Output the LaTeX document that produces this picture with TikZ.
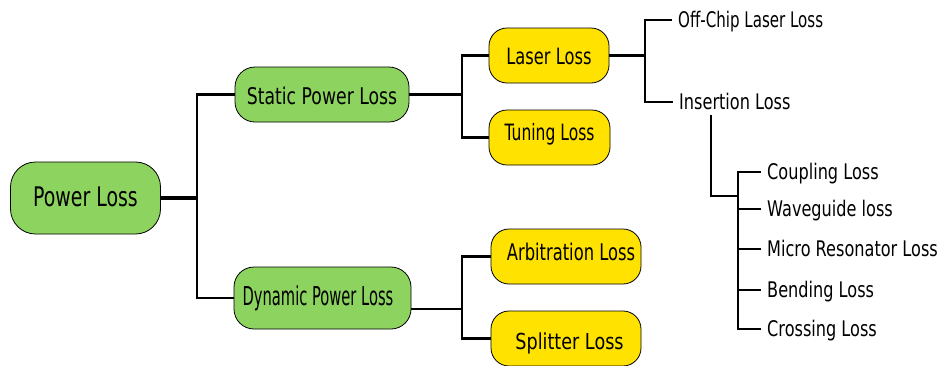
\documentclass[tikz,border=0pt]{standalone}
\usepackage{fontspec}
\setmainfont{DejaVu Sans}[FakeStretch=0.75]
\newfontfamily\plfont{DejaVu Sans}[FakeStretch=0.70]
\newfontfamily\dynfont{DejaVu Sans}[FakeStretch=0.565]
\newfontfamily\tunfont{DejaVu Sans}[FakeStretch=0.69]
\newfontfamily\offfont{DejaVu Sans}[FakeStretch=0.70]
\newfontfamily\arbfont{DejaVu Sans}[FakeStretch=0.71]
\newfontfamily\splfont{DejaVu Sans}[FakeStretch=0.80]
\newfontfamily\lasfont{DejaVu Sans}[FakeStretch=0.725]
\definecolor{boxgreen}{HTML}{8DD35F}
\definecolor{boxyellow}{HTML}{FFE200}
\begin{document}
\begin{tikzpicture}[x=1pt,y=-1pt,
  greenbox/.style={draw=black, line width=0.8pt, fill=boxgreen, rounded corners=20pt, inner sep=0pt, font=\fontsize{23}{28}\selectfont},
  yellowbox/.style={draw=black, line width=0.8pt, fill=boxyellow, rounded corners=18pt, minimum height=55pt, inner sep=0pt, font=\fontsize{22.5}{27}\selectfont},
  leaf/.style={inner xsep=6pt, inner ysep=0pt, text height=14pt, text depth=0pt, anchor=base west, font=\fontsize{21.5}{26}\selectfont},
  conn/.style={line width=2.2pt},
  mainconn/.style={line width=3.2pt},
]
\useasboundingbox (0,0) rectangle (940,365);

% boxes
\node[greenbox, minimum width=150pt, minimum height=72pt, rounded corners=25pt, text height=20pt, text depth=4pt, font=\fontsize{27}{32}\plfont] (pl) at (85.5,198) {Power Loss};
\node[greenbox, minimum width=174pt, minimum height=55pt, text height=22pt, text depth=3pt] (spl) at (322,94.5) {Static Power Loss};
\node[greenbox, minimum width=177pt, minimum height=62pt, text height=20pt, text depth=6pt, font=\fontsize{26}{30}\dynfont] (dpl) at (322.5,298) {Dynamic Power Loss\hspace*{9pt}};
\node[yellowbox, minimum width=120pt, text height=22pt, text depth=4pt, font=\fontsize{22.5}{27}\lasfont] (ll) at (549,55.5) {Laser Loss};
\node[yellowbox, minimum width=121pt, text height=17pt, text depth=12pt, font=\fontsize{22.5}{27}\tunfont] (tl) at (549.5,137.5) {Tuning Loss};
\node[yellowbox, minimum width=150pt, text height=18pt, text depth=9.6pt, font=\fontsize{23}{28}\arbfont] (al) at (566,256.5) {\hspace*{10pt}Arbitration Loss};
\node[yellowbox, minimum width=150pt, text height=24pt, text depth=3pt, font=\fontsize{22}{27}\splfont] (sl) at (566,338.5) {\hspace*{7pt}Splitter Loss};

% leaves
\node[leaf, font=\fontsize{21.5}{26}\offfont] (ocl) at (672,27) {Off-Chip Laser Loss};
\node[leaf] (il) at (673,109) {Insertion Loss};
\node[leaf] (cpl) at (761,179) {Coupling Loss};
\node[leaf] (wgl) at (761,216) {Waveguide loss};
\node[leaf] (mrl) at (761,256) {Micro Resonator Loss};
\node[leaf] (bl) at (761,297) {Bending Loss};
\node[leaf] (crl) at (761,336) {Crossing Loss};

% junctions
\coordinate (j1) at (197,198);
\coordinate (j2) at (462,94.5);
\coordinate (j3) at (462,309);
\coordinate (j4) at (645,55.5);
\coordinate (j5) at (738,196);

% connectors
\draw[mainconn] (pl.east) -- (j1);
\draw[conn] (spl.west) -| (j1) |- (dpl.west);
\draw[conn] (spl.east) -- (j2);
\draw[conn] (ll.west) -| (j2) |- (tl.west);
\draw[conn] (dpl.east |- j3) -- (j3);
\draw[conn] (al.west) -| (j3) |- (sl.west);
\draw[conn] (ll.east) -- (j4);
\draw[conn] (ocl.west) -| (j4) |- (il.west);
\draw[conn] ([xshift=38pt,yshift=-6pt]il.south west) |- (j5);
\draw[conn] (cpl.west) -| (j5) |- (crl.west);
\draw[conn] (wgl.west) -- (wgl.west -| j5);
\draw[conn] (mrl.west) -- (mrl.west -| j5);
\draw[conn] (bl.west) -- (bl.west -| j5);
\end{tikzpicture}
\end{document}
